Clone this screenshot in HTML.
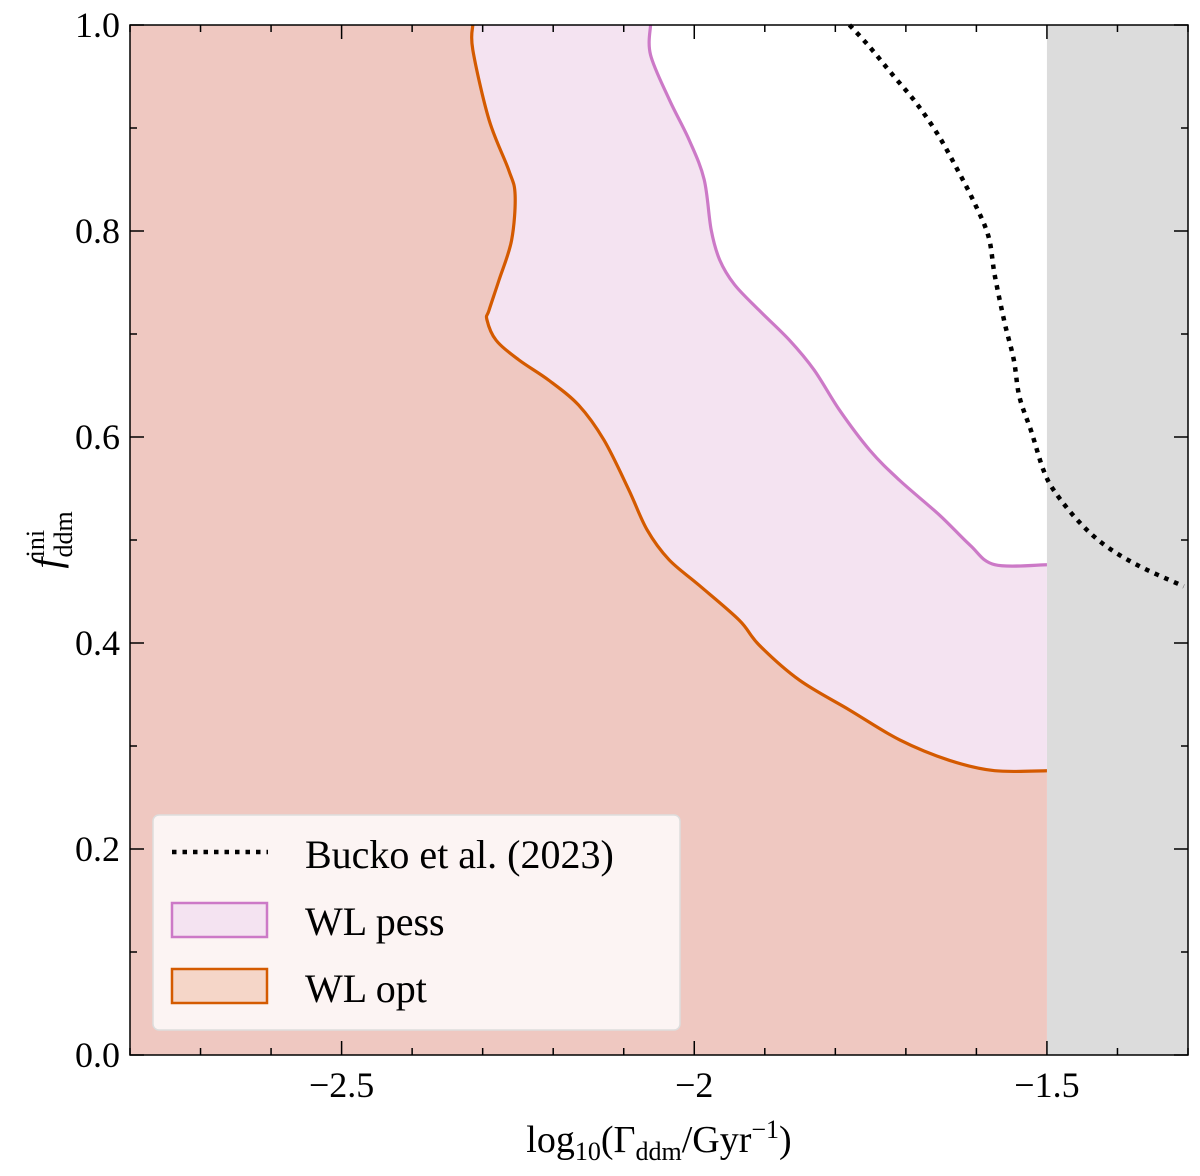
<!DOCTYPE html>
<html><head><meta charset="utf-8"><style>
html,body{margin:0;padding:0;background:#fff;}
svg{display:block;font-family:"Liberation Serif",serif;}
</style></head><body>
<svg id="chart" width="1200" height="1176" viewBox="0 0 1200 1176" xmlns="http://www.w3.org/2000/svg"></svg>
<script>
const xTicks=[-2.5,-2,-1.5];
const xTickLabels=["\u22122.5","\u22122","\u22121.5"];
const yTicks=[0,0.2,0.4,0.6,0.8,1.0];
const yTickLabels=["0.0","0.2","0.4","0.6","0.8","1.0"];
const optX=[-2.314,-2.314,-2.291,-2.263,-2.254,-2.259,-2.277,-2.291,-2.294,-2.281,-2.249,-2.206,-2.164,-2.128,-2.093,-2.067,-2.036,-1.993,-1.936,-1.908,-1.851,-1.780,-1.709,-1.638,-1.574,-1.5];
const optY=[1.0,0.976,0.908,0.859,0.835,0.791,0.752,0.723,0.714,0.694,0.675,0.655,0.631,0.597,0.549,0.510,0.481,0.456,0.422,0.398,0.364,0.335,0.306,0.286,0.276,0.276];
const pessX=[-2.062,-2.062,-2.035,-2.007,-1.986,-1.976,-1.964,-1.943,-1.908,-1.865,-1.830,-1.794,-1.751,-1.709,-1.652,-1.609,-1.574,-1.5];
const pessY=[1.0,0.971,0.927,0.888,0.850,0.801,0.772,0.748,0.723,0.694,0.665,0.626,0.587,0.558,0.524,0.495,0.476,0.476];
const bucX=[-1.780,-1.753,-1.718,-1.685,-1.654,-1.628,-1.604,-1.583,-1.574,-1.560,-1.547,-1.539,-1.522,-1.505,-1.489,-1.455,-1.418,-1.370,-1.306];
const bucY=[1.0,0.980,0.951,0.924,0.893,0.861,0.829,0.795,0.757,0.711,0.675,0.639,0.605,0.568,0.547,0.518,0.495,0.475,0.455];

const svg=document.getElementById('chart');
const NS='http://www.w3.org/2000/svg';
const L=130,R=1188,T=25,B=1055,x0=-2.8,x1=-1.3;
const sx=v=>L+(v-x0)/(x1-x0)*(R-L);
const sy=v=>B-v*(B-T);
function mk(tag,attrs,parent){const e=document.createElementNS(NS,tag);for(const k in attrs)e.setAttribute(k,attrs[k]);(parent||svg).appendChild(e);return e;}
function smooth(p){
  let d='';
  for(let i=0;i<p.length-1;i++){
    const a=p[Math.max(i-1,0)],b=p[i],c=p[i+1],e=p[Math.min(i+2,p.length-1)];
    const c1=[b[0]+(c[0]-a[0])/6,b[1]+(c[1]-a[1])/6],c2=[c[0]-(e[0]-b[0])/6,c[1]-(e[1]-b[1])/6];
    d+=' C'+c1.join(',')+' '+c2.join(',')+' '+c.join(',');
  }
  return d;
}
const bg=mk('rect',{x:L,y:T,width:R-L,height:B-T,fill:'#fff'});


const gray=mk('rect',{x:sx(-1.5),y:T,width:R-sx(-1.5),height:B-T,fill:'#dcdcdc'});


function region(xs,ys,fill,stroke,name){
  const p=xs.map((x,i)=>[sx(x),sy(ys[i])]);
  const s=smooth(p);
  let d='M'+sx(x0)+','+T+' L'+p[0].join(',')+s+' L'+sx(-1.5)+','+B+' L'+sx(x0)+','+B+' Z';
  const f=mk('path',{d:d,fill:fill,stroke:'none'});
  
  
  const l=mk('path',{d:'M'+p[0].join(',')+s,fill:'none',stroke:stroke,'stroke-width':3.2,'stroke-linejoin':'round'});
  
  
}
region(pessX,pessY,'#f4e3f1','#cc79c7','wl-pess');
region(optX,optY,'#efc8c1','#d45a00','wl-opt');
const bp=bucX.map((x,i)=>[sx(x),sy(bucY[i])]);
const buc=mk('path',{d:'M'+bp[0].join(',')+smooth(bp),fill:'none',stroke:'#000','stroke-width':4.5,'stroke-dasharray':'4.5 6'});


for(let v=-2.8;v<=-1.3+1e-9;v+=0.1){
  const major=xTicks.some(t=>Math.abs(t-v)<1e-6);const len=major?14:7;const x=sx(v);
  mk('line',{x1:x,x2:x,y1:B,y2:B-len,stroke:'#000','stroke-width':1.5});
  mk('line',{x1:x,x2:x,y1:T,y2:T+len,stroke:'#000','stroke-width':1.5});
}
for(let v=0;v<=1+1e-9;v+=0.1){
  const major=yTicks.some(t=>Math.abs(t-v)<1e-6);const len=major?14:7;const y=sy(v);
  mk('line',{x1:L,x2:L+len,y1:y,y2:y,stroke:'#000','stroke-width':1.5});
  mk('line',{x1:R,x2:R-len,y1:y,y2:y,stroke:'#000','stroke-width':1.5});
}
xTicks.forEach((t,i)=>{const e=mk('text',{x:sx(t),y:B+42,'font-size':36,'text-anchor':'middle'});e.textContent=xTickLabels[i];

});
yTicks.forEach((t,i)=>{const e=mk('text',{x:L-10,y:sy(t)+12,'font-size':36,'text-anchor':'end'});e.textContent=yTickLabels[i];

});
const frame=mk('rect',{x:L,y:T,width:R-L,height:B-T,fill:'none',stroke:'#000','stroke-width':1.5});


</script>
<svg style="position:absolute;left:0;top:0" width="1200" height="1176" xmlns="http://www.w3.org/2000/svg" font-family="Liberation Serif, serif">
<text x="659" y="1152" font-size="38" text-anchor="middle">log<tspan font-size="26" dy="8">10</tspan><tspan dy="-8">(Γ</tspan><tspan font-size="26" dy="8">ddm</tspan><tspan dy="-8">/Gyr</tspan><tspan font-size="26" dy="-14">−1</tspan><tspan dy="14">)</tspan></text>
<g transform="translate(60,540) rotate(-90)"><text font-size="40" text-anchor="middle" font-style="italic">f<tspan font-style="normal" font-size="26" dy="12">ddm</tspan><tspan font-style="normal" font-size="26" dx="-46" dy="-28">ini</tspan></text></g>
<g>
<rect x="153" y="815" width="527" height="215" rx="6" fill="#fff" fill-opacity="0.8" stroke="#ddd" stroke-width="1.5"/>
<line x1="172" y1="852" x2="268" y2="852" stroke="#000" stroke-width="4.5" stroke-dasharray="4.5 6"/>
<text x="305" y="868" font-size="40">Bucko et al. (2023)</text>
<rect x="172" y="903" width="95" height="34" fill="#f4e3f1" stroke="#cc79c7" stroke-width="2.5"/>
<text x="305" y="935" font-size="40">WL pess</text>
<rect x="172" y="969" width="95" height="34" fill="#f5d6c8" stroke="#d45a00" stroke-width="2.5"/>
<text x="305" y="1002" font-size="40">WL opt</text>
</g>
</svg>
</body></html>
